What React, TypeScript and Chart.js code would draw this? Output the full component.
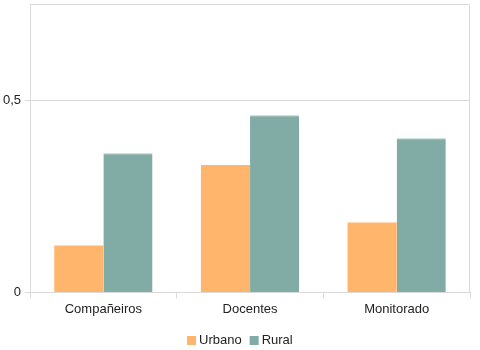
import React, { useEffect, useRef } from "react";
import { Chart, registerables } from "chart.js";

Chart.register(...registerables);

const categories = ["Compañeiros", "Docentes", "Monitorado"];
const urbano = [0.122, 0.331, 0.182];
const rural = [0.362, 0.461, 0.401];
const yTicks = [0, 0.5];

const FONT = "'Liberation Sans', Arial, sans-serif";
const GRID = "#d9d9d9";
const TEXT = "#222";

// Outline the top and right edges of the plotting area
const frame = {
  id: "frame",
  afterDraw(chart: any) {
    const { ctx, chartArea } = chart;
    ctx.save();
    ctx.strokeStyle = GRID;
    ctx.lineWidth = 1;
    ctx.beginPath();
    ctx.moveTo(Math.round(chartArea.left) + 0.5, Math.round(chartArea.top) + 0.5);
    ctx.lineTo(Math.round(chartArea.right) - 0.5, Math.round(chartArea.top) + 0.5);
    ctx.lineTo(Math.round(chartArea.right) - 0.5, Math.round(chartArea.bottom));
    ctx.stroke();
    ctx.restore();
  },
};

// Compact legend centred under the chart: small square swatch, tight gap, series name
const bottomLegend = {
  id: "bottomLegend",
  afterDraw(chart: any) {
    const { ctx, width } = chart;
    const box = 9;
    const gap = 3;
    const spacing = 8;
    const cy = 340;
    ctx.save();
    ctx.font = `13px ${FONT}`;
    ctx.textBaseline = "middle";
    const items = chart.data.datasets.map((ds: any) => ({
      label: ds.label as string,
      color: ds.backgroundColor as string,
      w: ctx.measureText(ds.label).width,
    }));
    const total =
      items.reduce((s: number, it: any) => s + box + gap + it.w, 0) + spacing * (items.length - 1);
    let x = Math.round((width - total) / 2);
    for (const it of items) {
      ctx.fillStyle = it.color;
      ctx.fillRect(x, Math.round(cy - box / 2), box, box);
      x += box + gap;
      ctx.fillStyle = TEXT;
      ctx.fillText(it.label, x, cy);
      x += it.w + spacing;
    }
    ctx.restore();
  },
};

export default function App() {
  const ref = useRef<HTMLCanvasElement>(null);

  useEffect(() => {
    if (!ref.current) return;
    const chart = new Chart(ref.current, {
      type: "bar",
      data: {
        labels: categories,
        datasets: [
          {
            label: "Urbano",
            data: urbano,
            backgroundColor: "#ffb66c",
            borderWidth: 0,
          },
          {
            label: "Rural",
            data: rural,
            backgroundColor: "#80aca5",
            borderColor: "#a9c8c3",
            borderWidth: { top: 1, left: 0, right: 0, bottom: 0 },
          },
        ],
      },
      options: {
        animation: false,
        responsive: false,
        maintainAspectRatio: false,
        layout: { padding: { top: 4, right: 10, left: -1, bottom: 30 } },
        datasets: {
          bar: { categoryPercentage: 0.67, barPercentage: 1.0 },
        },
        scales: {
          x: {
            offset: true,
            grid: {
              offset: true,
              drawOnChartArea: false,
              color: GRID,
              tickLength: 6,
            },
            border: { color: GRID },
            ticks: {
              color: TEXT,
              font: { family: FONT, size: 13 },
              padding: 3,
            },
          },
          y: {
            min: 0,
            max: 0.75,
            afterBuildTicks: (scale: any) => {
              scale.ticks = yTicks.map((v) => ({ value: v }));
            },
            afterFit: (scale: any) => {
              scale.paddingTop = 0;
            },
            grid: { color: GRID, tickLength: 5 },
            border: { color: GRID },
            ticks: {
              color: TEXT,
              font: { family: FONT, size: 13 },
              padding: 4,
              callback: (v: any) => String(v).replace(".", ","),
            },
          },
        },
        plugins: {
          legend: { display: false },
          tooltip: { enabled: false },
        },
      },
      plugins: [frame, bottomLegend],
    });
    return () => chart.destroy();
  }, []);

  return (
    <div style={{ position: "fixed", left: 0, top: 0, width: 480, height: 350, background: "#fff" }}>
      <canvas ref={ref} width={480} height={350} />
    </div>
  );
}
